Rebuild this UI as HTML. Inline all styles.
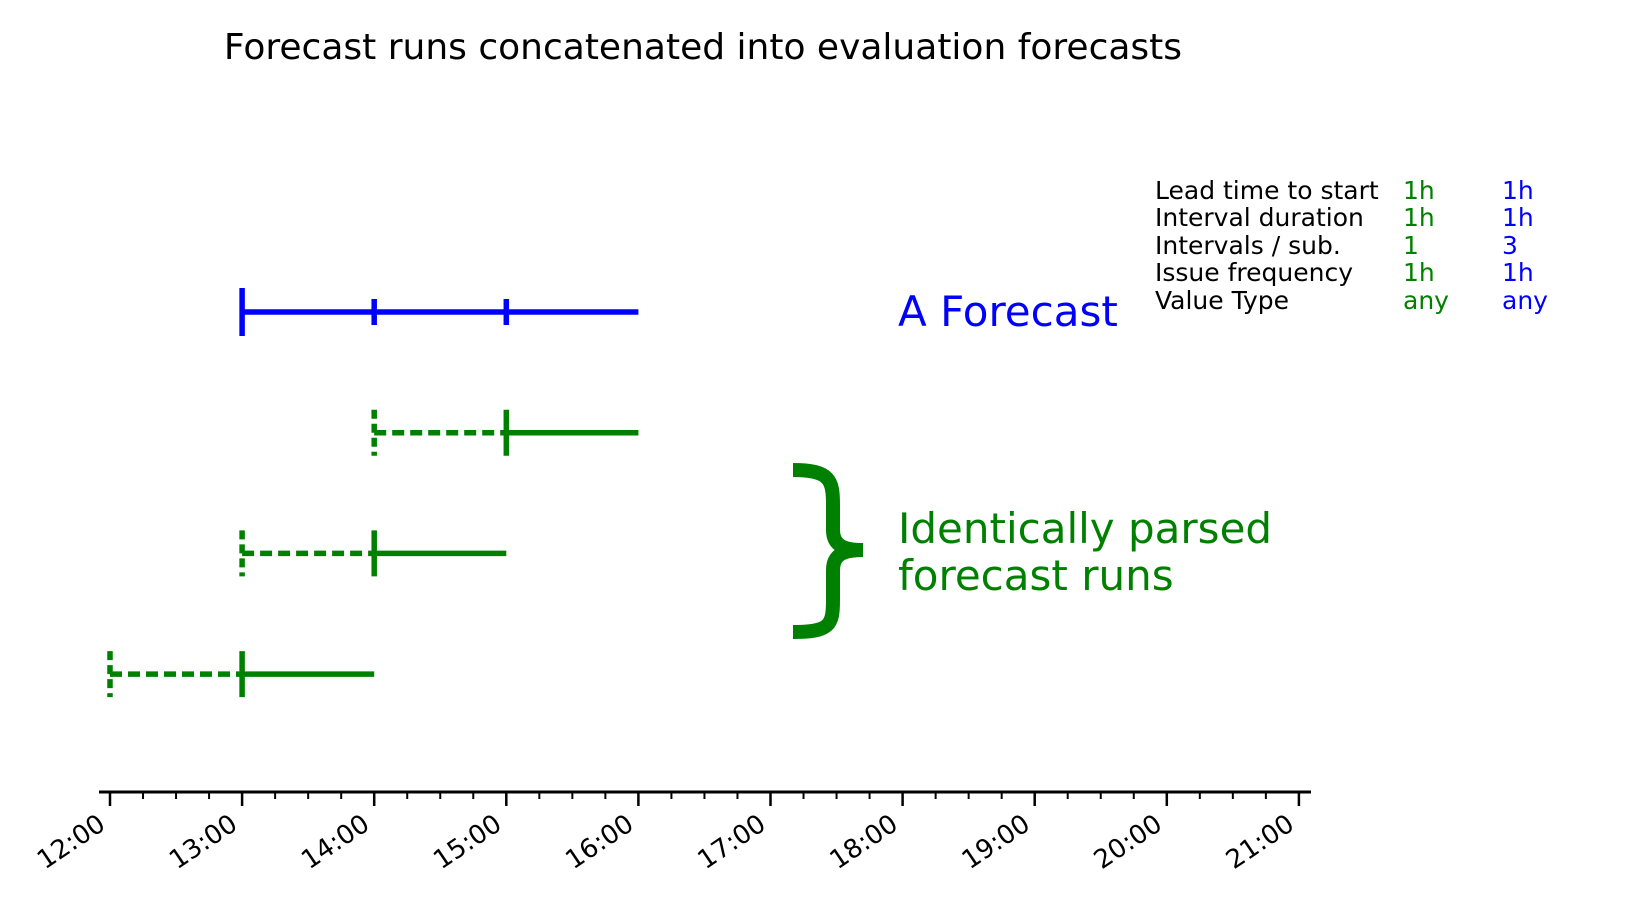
<!DOCTYPE html>
<html><head><meta charset="utf-8"><style>
body{margin:0;background:#fff}
svg text{font-family:"DejaVu Sans","Liberation Sans",sans-serif}
</style></head><body>
<svg id="c" width="1650" height="900" xmlns="http://www.w3.org/2000/svg">
<text x="703" y="59" font-size="36" text-anchor="middle">Forecast runs concatenated into evaluation forecasts</text>
<g id="axis"></g>
<g id="marks"></g>
<text x="898" y="326" font-size="42" fill="#0000ff">A Forecast</text>
<text x="898" y="543" font-size="42" fill="#008000">Identically parsed</text>
<text x="898" y="590" font-size="42" fill="#008000">forecast runs</text>
<path d="M793,470 C830,470 833,480 833,505 L833,530 C833,545 843,550 863,550 C843,550 833,555 833,570 L833,600 C833,625 830,632 793,632" fill="none" stroke="#008000" stroke-width="14"/>
<g font-size="25">
<text x="1155" y="199">Lead time to start</text><text x="1403" y="199" fill="#008000">1h</text><text x="1502" y="199" fill="#0000ff">1h</text>
<text x="1155" y="226">Interval duration</text><text x="1403" y="226" fill="#008000">1h</text><text x="1502" y="226" fill="#0000ff">1h</text>
<text x="1155" y="254">Intervals / sub.</text><text x="1403" y="254" fill="#008000">1</text><text x="1502" y="254" fill="#0000ff">3</text>
<text x="1155" y="281">Issue frequency</text><text x="1403" y="281" fill="#008000">1h</text><text x="1502" y="281" fill="#0000ff">1h</text>
<text x="1155" y="309">Value Type</text><text x="1403" y="309" fill="#008000">any</text><text x="1502" y="309" fill="#0000ff">any</text>
</g>
</svg>
<script>
const tickLabels=["12:00","13:00","14:00","15:00","16:00","17:00","18:00","19:00","20:00","21:00"];
const blueStart=13, blueTicks=[13,14,15], blueEnd=16;
const greenIssue=[14,13,12];
const greenStart=[15,14,13];
const greenEnd=[16,15,14];
const NS="http://www.w3.org/2000/svg";
const x=h=>110+(h-12)*132.1;
const rowY=i=>312+i*120.7;
function mk(p,t,a){const e=document.createElementNS(NS,t);for(const k in a)e.setAttribute(k,a[k]);p.appendChild(e);return e;}
const ax=document.getElementById('axis'), mg=document.getElementById('marks');
const axY=792;
let l=mk(ax,'line',{x1:99,x2:1311,y1:axY,y2:axY,stroke:'#000','stroke-width':3});


tickLabels.forEach((t,i)=>{
  const h=12+i;
  let tk=mk(ax,'line',{x1:x(h),x2:x(h),y1:axY,y2:axY+14,stroke:'#000','stroke-width':2.5});
  
  
  if(i<tickLabels.length-1)for(let q=1;q<4;q++){
    let m=mk(ax,'line',{x1:x(h+q/4),x2:x(h+q/4),y1:axY,y2:axY+7,stroke:'#000','stroke-width':2});
    
    
  }
  const lx=x(h)-3, ly=axY+36;
  let tx=mk(ax,'text',{x:lx,y:ly,'font-size':26,'text-anchor':'end',transform:`rotate(-34 ${lx} ${ly})`});
  tx.textContent=t;
  
  
});
const by=rowY(0);
let bl=mk(mg,'line',{x1:x(blueStart),x2:x(blueEnd),y1:by,y2:by,stroke:'#0000ff','stroke-width':5.5});


blueTicks.forEach((h,i)=>{
  const hh=i===0?24:13;
  let t=mk(mg,'line',{x1:x(h),x2:x(h),y1:by-hh,y2:by+hh,stroke:'#0000ff','stroke-width':5.5});
  
  
});
greenIssue.forEach((s,i)=>{
  const y=rowY(i+1);
  let d=mk(mg,'line',{x1:x(s),x2:x(greenStart[i]),y1:y,y2:y,stroke:'#008000','stroke-width':5.5,'stroke-dasharray':'12 6'});
  
  
  let dt=mk(mg,'line',{x1:x(s),x2:x(s),y1:y-23,y2:y+23,stroke:'#008000','stroke-width':5.5,'stroke-dasharray':'9 5'});
  
  
  let so=mk(mg,'line',{x1:x(greenStart[i]),x2:x(greenEnd[i]),y1:y,y2:y,stroke:'#008000','stroke-width':5.5});
  
  
  let st=mk(mg,'line',{x1:x(greenStart[i]),x2:x(greenStart[i]),y1:y-23,y2:y+23,stroke:'#008000','stroke-width':5.5});
  
  
});
</script>
</body></html>
